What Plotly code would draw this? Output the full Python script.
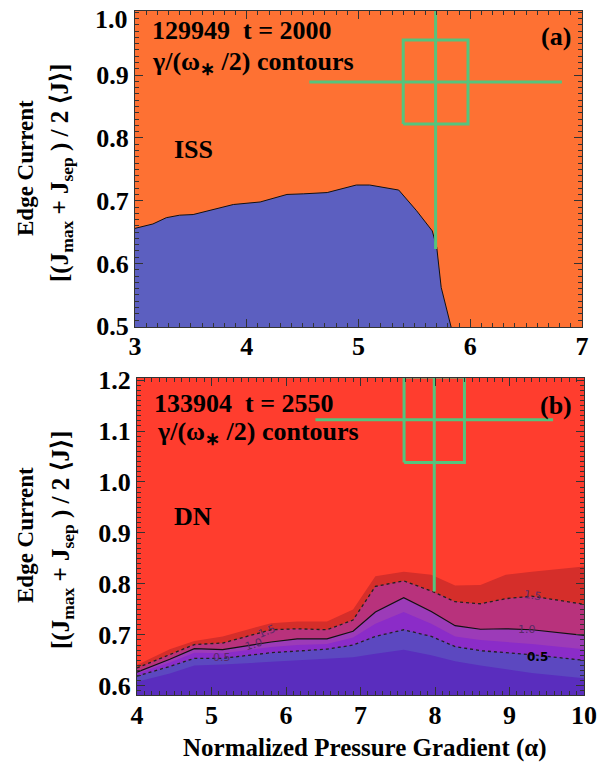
import plotly.graph_objects as go

W, H = 599, 765

# ---------------- Panel (a) data ----------------
alpha_a = [3.0, 3.16, 3.28, 3.40, 3.52, 3.67, 3.88, 4.12, 4.36, 4.51, 4.72, 4.98, 5.10, 5.36, 5.52, 5.66, 5.70, 5.74, 5.83]
stable_edge_a = [0.656, 0.663, 0.673, 0.677, 0.678, 0.685, 0.694, 0.698, 0.710, 0.711, 0.713, 0.725, 0.725, 0.717, 0.684, 0.652, 0.626, 0.562, 0.498]
yticks_a = [0.5, 0.6, 0.7, 0.8, 0.9]      # 1.0 label is drawn separately (pushed inside the figure)
top_label_a = "1.0"

# experimental point with error bars (panel a)
exp_a = dict(x=5.69, y=0.889, box_dx=0.29, box_dy=0.067, bar_dx=1.13, bar_dy=0.266)

# ---------------- Panel (b) data ----------------
alpha_b = [4.0, 4.44, 4.77, 5.15, 5.8, 6.15, 6.55, 6.9, 7.2, 7.58, 7.95, 8.27, 8.61, 8.95, 9.3, 10.0]
level_2p0 = [0.641, 0.672, 0.688, 0.697, 0.723, 0.726, 0.726, 0.750, 0.815, 0.824, 0.818, 0.797, 0.798, 0.818, 0.824, 0.834]
level_1p5 = [0.635, 0.662, 0.681, 0.684, 0.710, 0.712, 0.710, 0.729, 0.795, 0.806, 0.786, 0.765, 0.761, 0.771, 0.776, 0.760]
level_1p0 = [0.627, 0.652, 0.673, 0.671, 0.686, 0.692, 0.692, 0.707, 0.745, 0.773, 0.746, 0.718, 0.711, 0.712, 0.710, 0.699]
level_0p75 = [0.624, 0.646, 0.665, 0.664, 0.676, 0.680, 0.682, 0.695, 0.722, 0.745, 0.722, 0.697, 0.690, 0.686, 0.682, 0.672]
level_0p5 = [0.619, 0.638, 0.654, 0.654, 0.665, 0.668, 0.672, 0.680, 0.697, 0.710, 0.697, 0.677, 0.669, 0.665, 0.661, 0.650]
level_0p25 = [0.608, 0.624, 0.640, 0.642, 0.647, 0.650, 0.653, 0.656, 0.663, 0.671, 0.660, 0.648, 0.640, 0.632, 0.625, 0.615]

exp_b = dict(x=7.99, y=1.122, box_dx=0.405, box_dy=0.084, bar_dx=1.595, bar_dy=0.337)

# contour labels: (text, alpha, J, angle)
contour_labels = [("1.5", 5.74, 0.707, -22), ("1.0", 5.57, 0.681, -18), ("0.5", 5.14, 0.655, 0),
                  ("1.5", 9.31, 0.778, 8), ("1.0", 9.24, 0.710, 0), ("0.5", 9.37, 0.657, 0)]

# colours
ORANGE = "#FE7133"
BLUE_A = "#5C5FC0"
RED_B = "#FF3D2E"
band_colors = ["#D52E2A", "#B8327C", "#9C3BB8", "#8B2CC8", "#5C48C0", "#5A2DBE"]
GREEN = "#55C47D"

FONT = "Liberation Serif"
FS = 26

fig = go.Figure()

# ---- panel (a)
fig.add_trace(go.Scatter(x=alpha_a, y=stable_edge_a, mode="lines", fill="tozeroy",
                         fillcolor=BLUE_A, line=dict(color="#111", width=1),
                         xaxis="x", yaxis="y", hoverinfo="skip"))


def add_crosshair(e, xa, ya):
    x, y = e["x"], e["y"]
    fig.add_trace(go.Scatter(x=[x - e["bar_dx"], x + e["bar_dx"]], y=[y, y], mode="lines",
                             line=dict(color=GREEN, width=3), xaxis=xa, yaxis=ya, hoverinfo="skip"))
    fig.add_trace(go.Scatter(x=[x, x], y=[y - e["bar_dy"], y + e["bar_dy"]], mode="lines",
                             line=dict(color=GREEN, width=3), xaxis=xa, yaxis=ya, hoverinfo="skip"))
    bx = [x - e["box_dx"], x + e["box_dx"], x + e["box_dx"], x - e["box_dx"], x - e["box_dx"]]
    by = [y - e["box_dy"], y - e["box_dy"], y + e["box_dy"], y + e["box_dy"], y - e["box_dy"]]
    fig.add_trace(go.Scatter(x=bx, y=by, mode="lines", line=dict(color=GREEN, width=3),
                             xaxis=xa, yaxis=ya, hoverinfo="skip"))


add_crosshair(exp_a, "x", "y")

# ---- panel (b) filled bands
levels = [level_2p0, level_1p5, level_1p0, level_0p75, level_0p5, level_0p25]
for lv, col in zip(levels, band_colors):
    fig.add_trace(go.Scatter(x=alpha_b, y=lv, mode="lines", fill="tozeroy", fillcolor=col,
                             line=dict(width=0, color=col), xaxis="x2", yaxis="y2", hoverinfo="skip"))

# contour lines
fig.add_trace(go.Scatter(x=alpha_b, y=level_1p5, mode="lines", line=dict(color="#222", width=1.3, dash="dot"),
                         xaxis="x2", yaxis="y2", hoverinfo="skip"))
fig.add_trace(go.Scatter(x=alpha_b, y=level_1p0, mode="lines", line=dict(color="#111", width=1.2),
                         xaxis="x2", yaxis="y2", hoverinfo="skip"))
fig.add_trace(go.Scatter(x=alpha_b, y=level_0p5, mode="lines", line=dict(color="#222", width=1.3, dash="dot"),
                         xaxis="x2", yaxis="y2", hoverinfo="skip"))

add_crosshair(exp_b, "x2", "y2")

annotations = []
for i, (t, ax_, ay_, ang) in enumerate(contour_labels):
    last = i == len(contour_labels) - 1
    annotations.append(dict(x=ax_, y=ay_, xref="x2", yref="y2", text=t, showarrow=False, textangle=ang,
                            font=dict(family="DejaVu Sans", size=11 if not last else 12,
                                      color="#000" if last else "#5a2a66",
                                      weight="bold" if last else "normal")))


def pa(text, px, py, xanchor="left", size=FS, angle=0):
    annotations.append(dict(x=px / W, y=1 - py / H, xref="paper", yref="paper", text=text,
                            showarrow=False, xanchor=xanchor, yanchor="middle", textangle=angle,
                            font=dict(family=FONT, size=size, color="#000", weight="bold")))


NB = "\u00a0"
# panel a texts
pa("129949" + NB + NB + "t = 2000", 150, 31)
pa("γ/(ω<sub>∗</sub> /2) contours", 150, 63)
pa("(a)", 573, 36, xanchor="right")
pa("ISS", 172, 150)
pa(top_label_a, 130, 19, xanchor="right")
# panel b texts
pa("133904" + NB + NB + "t = 2550", 152, 403)
pa("γ/(ω<sub>∗</sub> /2) contours", 155, 433)
pa("(b)", 574, 405, xanchor="right")
pa("DN", 172, 516)

# y titles
line2 = ("[(J<sub>max</sub>" + NB + "+" + NB + "J<sub>sep</sub>" + NB + ")" + NB + "/" + NB + "2" + NB
         + "⟨J⟩]")
for cy in (168, 535):
    pa("Edge Current", 25, cy, xanchor="center", angle=-90, size=23)
    pa(line2, 62, cy + 5, xanchor="center", angle=-90, size=25)
# x title
pa("Normalized Pressure Gradient (α)", 365, 748, xanchor="center", size=25)

tickfont = dict(family=FONT, size=FS, color="#000", weight="bold")
common = dict(showgrid=False, zeroline=False, ticks="inside", mirror="allticks", showline=True,
              linecolor="#333", linewidth=1, tickcolor="#333", ticklen=8, tickwidth=1,
              tickfont=tickfont, automargin=False)

fig.update_layout(
    width=W, height=H, margin=dict(l=0, r=0, t=0, b=0, pad=0, autoexpand=False),
    paper_bgcolor="white", plot_bgcolor="white", showlegend=False,
    xaxis=dict(domain=[135 / W, 582 / W], range=[3, 7], dtick=1, anchor="y", ticklabelstandoff=-4,
               minor=dict(dtick=0.1, ticks="inside", ticklen=4, tickcolor="#333"), **common),
    yaxis=dict(domain=[1 - 327 / H, 1 - 11 / H], range=[0.499, 1.002], tickvals=yticks_a, tickformat=".1f",
               anchor="x",
               minor=dict(dtick=0.01, ticks="inside", ticklen=4, tickcolor="#333"), **common),
    xaxis2=dict(domain=[137 / W, 584 / W], range=[4, 10], dtick=1, anchor="y2", ticklabelstandoff=-3,
                minor=dict(dtick=0.1, ticks="inside", ticklen=4, tickcolor="#333"), **common),
    yaxis2=dict(domain=[1 - 695 / H, 1 - 378 / H], range=[0.582, 1.204], dtick=0.1, tickformat=".1f",
                anchor="x2",
                minor=dict(dtick=0.01, ticks="inside", ticklen=4, tickcolor="#333"), **common),
    annotations=annotations,
)

# panel backgrounds as layout shapes below traces
fig.add_shape(type="rect", xref="x domain", yref="y domain", x0=0, x1=1, y0=0, y1=1,
              fillcolor=ORANGE, line_width=0, layer="below")
fig.add_shape(type="rect", xref="x2 domain", yref="y2 domain", x0=0, x1=1, y0=0, y1=1,
              fillcolor=RED_B, line_width=0, layer="below")

fig.write_html("out.html")
